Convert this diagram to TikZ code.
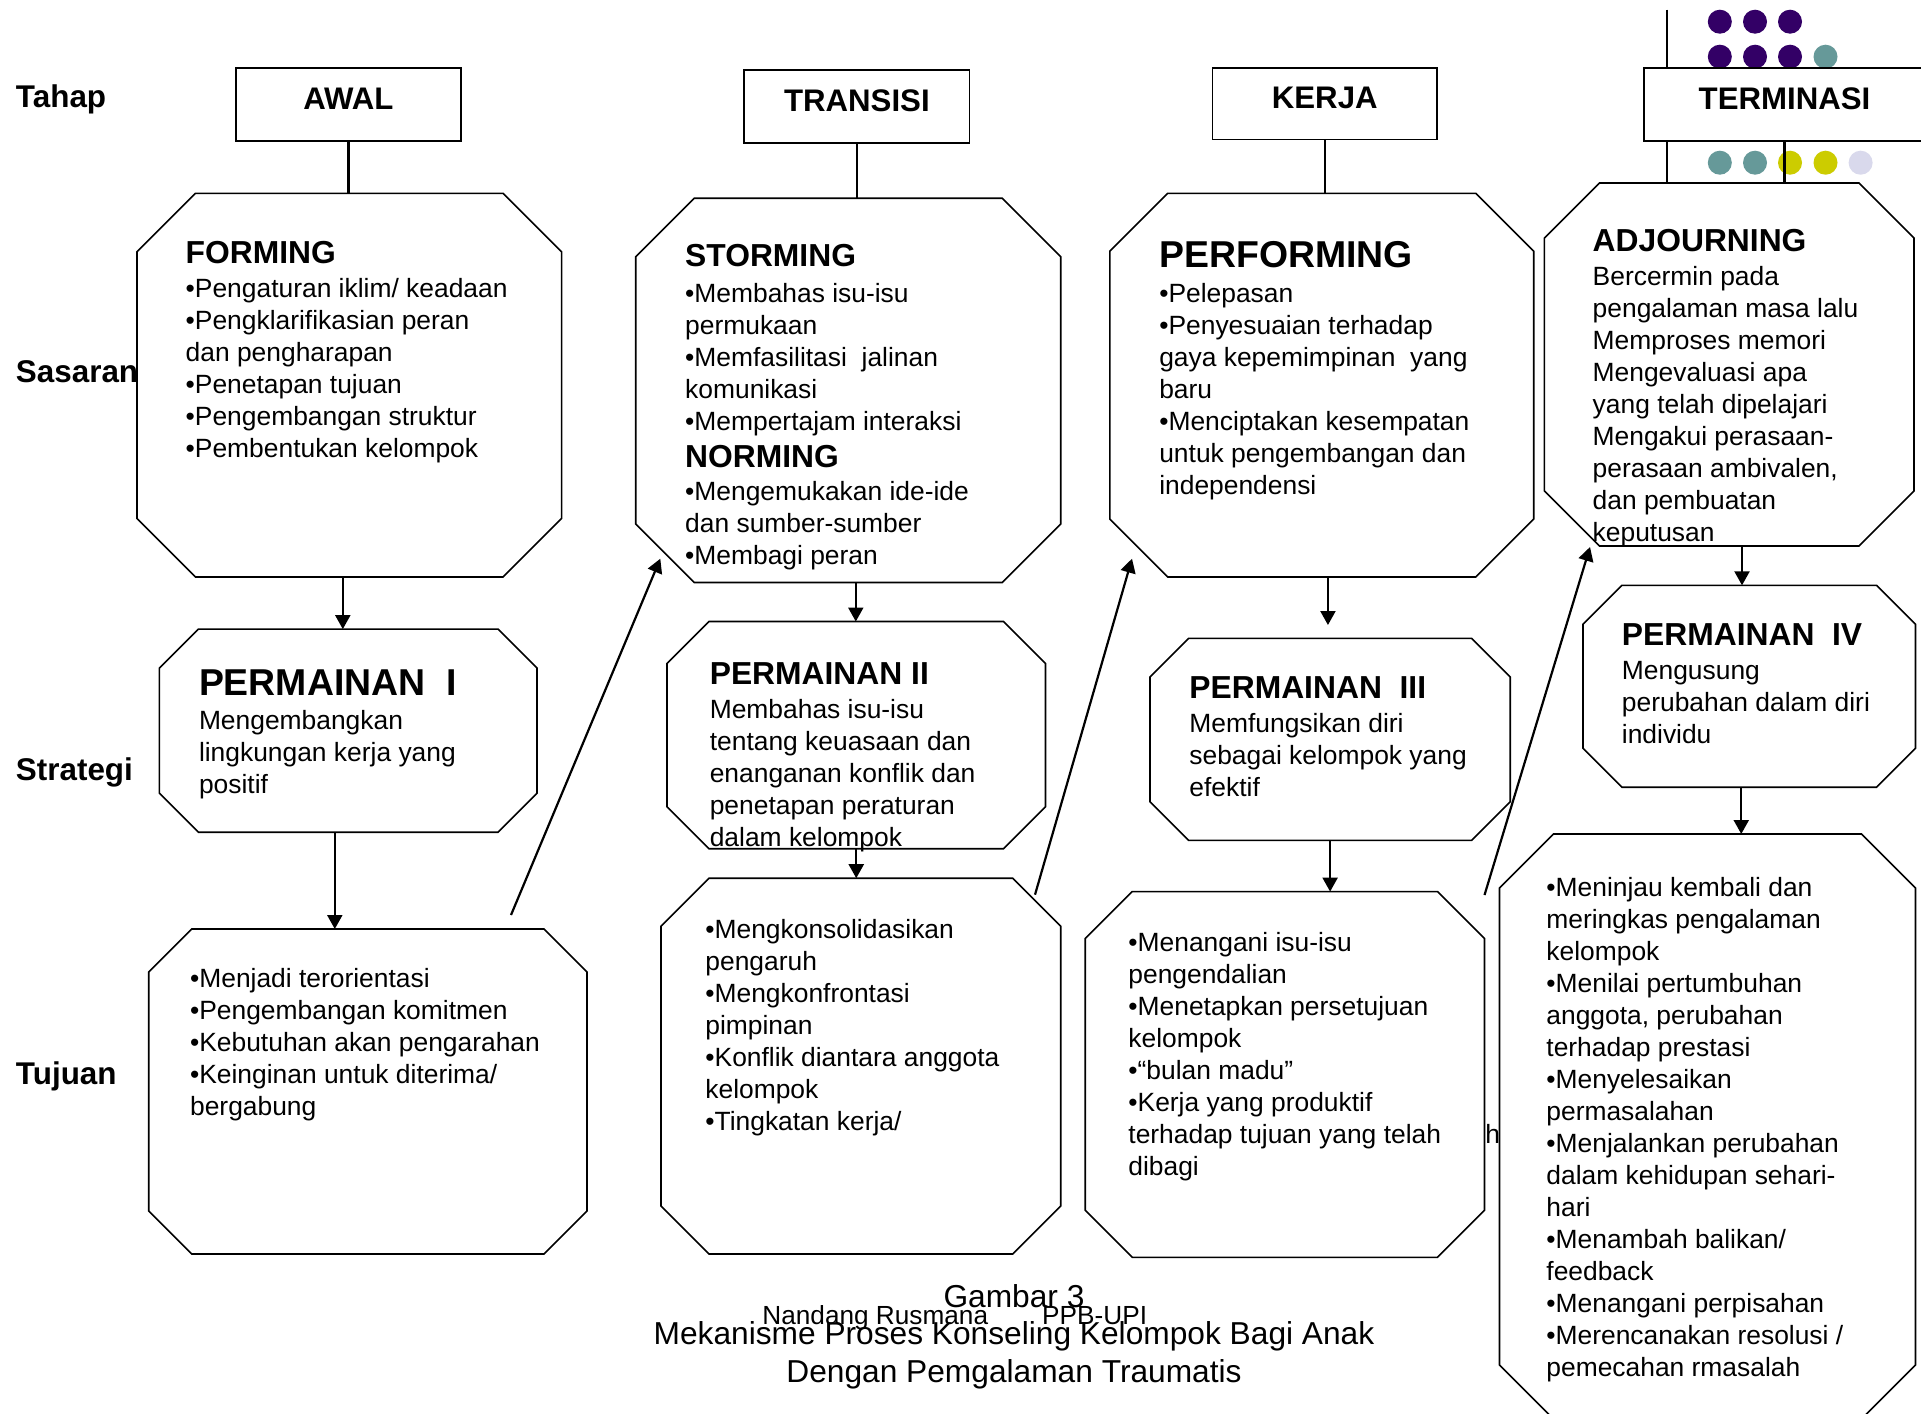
\documentclass[tikz,border=0pt]{standalone}
\usepackage{fontspec}
\setmainfont{Liberation Sans}
\usetikzlibrary{arrows.meta,fit}

\definecolor{dotpurple}{HTML}{330066}
\definecolor{dotteal}{HTML}{669999}
\definecolor{dotyellow}{HTML}{CCCC00}
\definecolor{dotlilac}{HTML}{D9D9EC}

\newcommand{\octframe}[2]{%
  \draw[octline] ([xshift=#2]#1.north west) -- ([xshift=-#2]#1.north east)
    -- ([yshift=-#2]#1.north east) -- ([yshift=#2]#1.south east)
    -- ([xshift=-#2]#1.south east) -- ([xshift=#2]#1.south west)
    -- ([yshift=#2]#1.south west) -- ([yshift=-#2]#1.north west) -- cycle;}
\newcommand{\headtxt}[1]{{\fontsize{15.9}{16}\selectfont\bfseries #1}}
\newcommand{\headbig}[1]{{\fontsize{18.7}{16}\selectfont\bfseries #1}}

\begin{document}
\begin{tikzpicture}[x=0.5pt,y=-0.5pt,
  boxframe/.style={inner sep=0pt,outer sep=0pt},
  octline/.style={line width=0.8pt},
  stagebox/.style={draw,line width=0.8pt,fill=white,inner sep=0pt,outer sep=0pt,
    text depth=6pt,font=\fontsize{15.6}{18}\selectfont\bfseries},
  rowlabel/.style={anchor=base west,inner sep=0pt,font=\fontsize{15.7}{18}\selectfont\bfseries},
  txt/.style={anchor=north west,inner sep=0pt,align=left,font=\fontsize{13.2}{16}\selectfont},
  captxt/.style={anchor=base,inner sep=0pt,font=\fontsize{15.85}{18}\selectfont},
  footer/.style={anchor=base west,inner sep=0pt,font=\fontsize{13.1}{16}\selectfont},
  link/.style={line width=1.1pt},
  arr/.style={line width=1.1pt,-{Triangle[width=7.5pt,length=7pt]}}]
\useasboundingbox (0,0) rectangle (1921,1413);
\fill[white] (0,0) rectangle (1921,1413);

%row labels
\node[rowlabel] (tahap) at (15.6,108) {Tahap};
\node[rowlabel] (sasaran) at (15.6,382.7) {Sasaran};
\node[rowlabel] (strategi) at (15.6,780.9) {Strategi};
\node[rowlabel] (tujuan) at (15.6,1084.4) {Tujuan};

%frames of the octagons
\node[boxframe,fit={(137,193.3) (561.6,577)}] (forming) {};
\node[boxframe,fit={(635.7,198.2) (1060.7,582.5)}] (storming) {};
\node[boxframe,fit={(1109.8,193.3) (1533.7,577)}] (performing) {};
\node[boxframe,fit={(1544.4,183) (1914,546)}] (adjourning) {};
\node[boxframe,fit={(159.4,629.1) (537,832.2)}] (perm1) {};
\node[boxframe,fit={(667,621.5) (1045.5,848.7)}] (perm2) {};
\node[boxframe,fit={(1150,638.4) (1510.2,840.3)}] (perm3) {};
\node[boxframe,fit={(1583,585.3) (1915.5,787.2)}] (perm4) {};
\node[boxframe,fit={(148.7,929) (587,1254)}] (goal1) {};
\node[boxframe,fit={(661,878.2) (1060.7,1254)}] (goal2) {};
\node[boxframe,fit={(1085.2,891.6) (1484.5,1257.3)}] (goal3) {};
\node[boxframe,fit={(1499.5,834) (1915.5,1419)}] (goal4) {};

%dots and bar behind terminasi
\coordinate (deco) at (1667,9.6);
\draw[link] (deco) -- (deco |- adjourning.north);
\foreach \x in {1719.8,1755,1790} {
  \fill[dotpurple] (\x,21.7) circle[radius=6pt];
  \fill[dotpurple] (\x,56.7) circle[radius=6pt];
}
\fill[dotteal] (1825.5,56.7) circle[radius=6pt];
\foreach \x/\c in {1719.8/dotteal,1755/dotteal,1790/dotyellow,1825.5/dotyellow,1860.6/dotlilac}
  \fill[\c] (\x,162.7) circle[radius=6pt];

%stages
\node[stagebox,minimum width=112.7pt,minimum height=36.35pt] (awal) at (348.4,104.45) {AWAL};
\node[stagebox,minimum width=112.7pt,minimum height=36.35pt] (transisi) at (856.9,106.35) {TRANSISI};
\node[stagebox,minimum width=112.25pt,minimum height=35.8pt] (kerja) at (1324.75,103.9) {KERJA};
\node[stagebox,minimum width=140.5pt,minimum height=36.35pt] (terminasi) at (1784.5,104.45) {TERMINASI};
\draw[link] (awal.south) -- (awal.south |- forming.north);
\draw[link] (transisi.south) -- (transisi.south |- storming.north);
\draw[link] (kerja.south) -- (kerja.south |- performing.north);
\draw[link] (terminasi.south) -- (terminasi.south |- adjourning.north);

%octagons
\octframe{forming}{29.25pt}
\octframe{storming}{29.25pt}
\octframe{performing}{29pt}
\octframe{adjourning}{27.5pt}
\octframe{perm1}{19.5pt}
\octframe{perm2}{21pt}
\octframe{perm3}{19.25pt}
\octframe{perm4}{19.5pt}
\octframe{goal1}{21.5pt}
\octframe{goal2}{24pt}
\octframe{goal3}{23.5pt}
\octframe{goal4}{27pt}

%sasaran
\node[txt] (formingtxt) at (185.3,241.3) {\headtxt{FORMING}\\[1pt]
•Pengaturan iklim/ keadaan\\
•Pengklarifikasian peran\\
dan pengharapan\\
•Penetapan tujuan\\
•Pengembangan struktur\\
•Pembentukan kelompok};
\node[txt] (stormingtxt) at (684.8,243.8) {\headtxt{STORMING}\\[2pt]
•Membahas isu-isu\\
permukaan\\
•Memfasilitasi\ \ jalinan\\
komunikasi\\
•Mempertajam interaksi\\[2.3pt]
\headtxt{NORMING}\\[0.7pt]
•Mengemukakan ide-ide\\
dan sumber-sumber\\
•Membagi peran};
\node[txt] (performingtxt) at (1158.9,240.8) {\headbig{PERFORMING}\\[1.7pt]
•Pelepasan\\
•Penyesuaian terhadap\\
gaya kepemimpinan\ \ yang\\
baru\\
•Menciptakan kesempatan\\
untuk pengembangan dan\\
independensi};
\node[txt] (adjourningtxt) at (1592.3,228.5) {\headtxt{ADJOURNING}\\[1.2pt]
Bercermin pada\\
pengalaman masa lalu\\
Memproses memori\\
Mengevaluasi apa\\
yang telah dipelajari\\
Mengakui perasaan-\\
perasaan ambivalen,\\
dan pembuatan\\
keputusan};

%strategi
\node[txt] (perm1txt) at (198.6,669.4) {\headbig{PERMAINAN\ \ I}\\[1.2pt]
Mengembangkan\\
lingkungan kerja yang\\
positif};
\node[txt] (perm2txt) at (709.4,661.8) {\headtxt{PERMAINAN II}\\[1pt]
Membahas isu-isu\\
tentang keuasaan dan\\
enanganan konflik dan\\
penetapan peraturan\\
dalam kelompok};
\node[txt] (perm3txt) at (1189,676.5) {\headtxt{PERMAINAN\ \ III}\\[0.7pt]
Memfungsikan diri\\
sebagai kelompok yang\\
efektif};
\node[txt] (perm4txt) at (1621.5,623.5) {\headtxt{PERMAINAN\ \ IV}\\[1pt]
Mengusung\\
perubahan dalam diri\\
individu};

%tujuan
\node[txt] (goal1txt) at (189.7,967.6) {•Menjadi terorientasi\\
•Pengembangan komitmen\\
•Kebutuhan akan pengarahan\\
•Keinginan untuk diterima/\\
bergabung};
\node[txt] (goal2txt) at (705,919.1) {•Mengkonsolidasikan\\
pengaruh\\
•Mengkonfrontasi\\
pimpinan\\
•Konflik diantara anggota\\
kelompok\\
•Tingkatan kerja/};
\node[txt] (goal3txt) at (1128,931.6) {•Menangani isu-isu\\
pengendalian\\
•Menetapkan persetujuan\\
kelompok\\
•“bulan madu”\\
•Kerja yang produktif\\
terhadap tujuan yang telah\\
dibagi};
\node[txt] (goal4txt) at (1546,876.8) {•Meninjau kembali dan\\
meringkas pengalaman\\
kelompok\\
•Menilai pertumbuhan\\
anggota, perubahan\\
terhadap prestasi\\
•Menyelesaikan\\
permasalahan\\
•Menjalankan perubahan\\
dalam kehidupan sehari-\\
hari\\
•Menambah balikan/\\
feedback\\
•Menangani perpisahan\\
•Merencanakan resolusi /\\
pemecahan rmasalah};
\node[txt,anchor=base west] (stray) at (1485,1143) {h};

%arrows
\draw[arr] ([xshift=-3.25pt]forming.south) -- ([xshift=-3.25pt]forming.south |- perm1.north);
\draw[arr] ([xshift=-6.7pt]perm1.south) -- ([xshift=-6.7pt]perm1.south |- goal1.north);
\draw[arr] ([xshift=3.8pt]storming.south) -- ([xshift=3.8pt]storming.south |- perm2.north);
\draw[arr] (perm2.south) -- (perm2.south |- goal2.north);
\draw[arr] ([xshift=3.1pt]performing.south) -- ([xshift=3.1pt,yshift=6.7pt]performing.south |- perm3.north);
\draw[arr] (perm3.south) -- (perm3.south |- goal3.north);
\draw[arr] ([xshift=6.4pt]adjourning.south) -- ([xshift=6.4pt]adjourning.south |- perm4.north);
\draw[arr] ([xshift=-4pt]perm4.south) -- ([xshift=-4pt]perm4.south |- goal4.north);
\draw[arr] ([xshift=-38pt,yshift=7pt]goal1.north east) -- ([xshift=12.3pt,yshift=11.9pt]storming.south west);
\draw[arr] ([xshift=-12.85pt,yshift=-8.25pt]goal2.north east) -- ([xshift=11.1pt,yshift=9.15pt]performing.south west);
\draw[arr] ([yshift=-1.7pt]goal3.north east) -- ([xshift=22.8pt,yshift=-0.5pt]adjourning.south west);

%caption
\node[captxt] (gambar) at (1014,1307) {Gambar 3};
\node[footer] (author) at (762,1324) {Nandang Rusmana};
\node[footer] (unit) at (1041.8,1324) {PPB-UPI};
\node[captxt] (title1) at (1014,1344.5) {Mekanisme Proses Konseling Kelompok Bagi Anak};
\node[captxt] (title2) at (1014,1382) {Dengan Pemgalaman Traumatis};
\end{tikzpicture}
\end{document}
